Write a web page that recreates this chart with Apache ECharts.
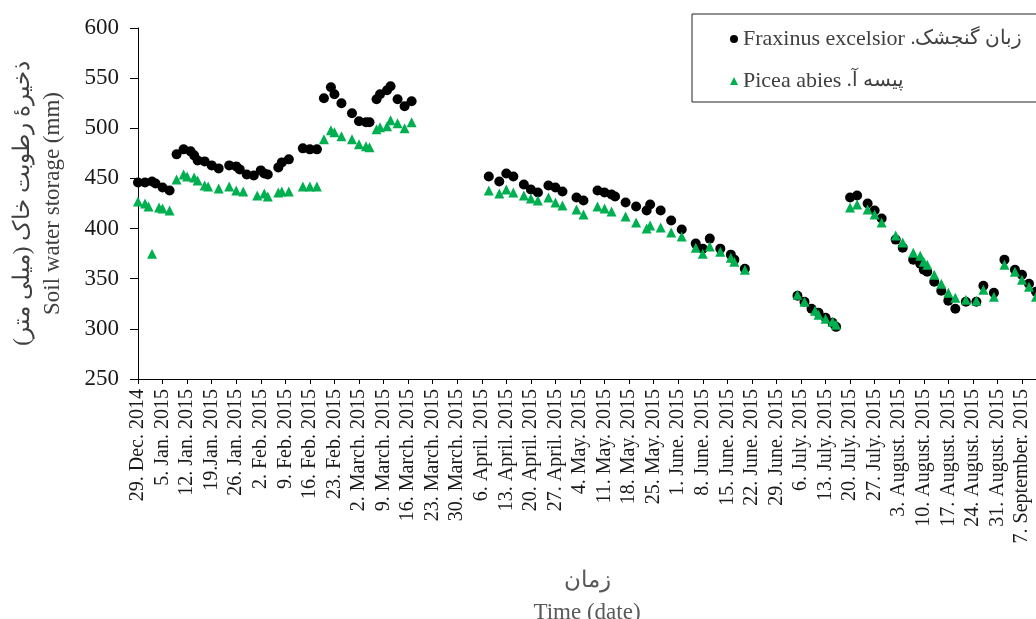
<!DOCTYPE html>
<html>
<head>
<meta charset="utf-8">
<script src="https://cdn.jsdelivr.net/npm/echarts@6/dist/echarts.min.js"></script>
<style>
html,body{margin:0;padding:0;background:#fff;}
#chart{width:1036px;height:619px;}
</style>
</head>
<body>
<div id="chart"></div>
<script>
// Tick labels (one per week, starting 29 Dec 2014 = day 0)
const tickLabels = ['29. Dec. 2014','5. Jan. 2015','12. Jan. 2015','19.Jan. 2015','26. Jan. 2015','2. Feb. 2015','9. Feb. 2015','16. Feb. 2015','23. Feb. 2015','2. March. 2015','9. March. 2015','16. March. 2015','23. March. 2015','30. March. 2015','6. April. 2015','13. April. 2015','20. April. 2015','27. April. 2015','4. May. 2015','11. May. 2015','18. May. 2015','25. May. 2015','1. June. 2015','8. June. 2015','15. June. 2015','22. June. 2015','29. June. 2015','6. July. 2015','13. July. 2015','20. July. 2015','27. July. 2015','3. August. 2015','10. August. 2015','17. August. 2015','24. August. 2015','31. August. 2015','7. September. 2015'];

// Fraxinus excelsior (ash): day since 29 Dec 2014, soil water storage (mm)
const ashDays = [0,2,4,5,7,9, 11,13,15,16,17,19,21,23,26,28,29,31,33,35,36,37,40,41,43, 47,49,51,53,55,56,58,61,63,65,66,68,69,71,72,74,76,78, 100,103,105,107,110,112,114,117,119,121,125,127,131,133,135,136,139,142,145,146,149,152,155,159,161,163,166,169,170,173, 188,190,192,194,196,198,199, 203,205,208,210,212,216,218,221,223,224,225,227,229,231,233,236,239,241,244,247,250,252,254,256];
const ashValues = [446,446,447,445,441,438, 474,479,477,473,468,467,463,460,463,462,459,454,453,458,455,454,461,466,469, 480,479,479,530,541,534,525,515,507,506,506,529,534,538,542,529,522,527, 452,447,455,452,444,439,436,443,441,437,431,428,438,436,434,432,426,422,418,424,418,408,399,385,380,390,380,374,369,360, 333,327,320,316,311,306,302, 431,433,425,418,410,389,381,369,365,359,357,347,338,328,320,327,327,343,336,369,359,354,345,337];

// Picea abies (spruce)
const spruceDays = [0,2,3,4,6,7,9, 11,13,14,16,17,19,20,23,26,28,30,34,36,37,40,41,43, 47,49,51,53,55,56,58,61,63,65,66,68,69,71,72,74,76,78, 100,103,105,107,110,112,114,117,119,121,125,127,131,133,135,139,142,145,146,149,152,155,159,161,163,166,169,170,173, 188,190,193,194,196,198,199, 203,205,208,210,212,216,218,221,223,224,225,227,229,231,233,236,239,241,244,247,250,252,254,256];
const spruceValues = [427,425,422,375,421,420,418, 449,454,452,451,448,443,442,440,442,438,437,433,435,432,436,437,437, 442,442,442,489,498,496,492,489,484,482,481,499,501,502,508,505,500,506, 438,435,439,436,433,430,428,431,426,423,419,414,422,420,417,412,406,400,403,401,396,392,381,375,382,377,371,367,359, 334,327,318,314,310,307,304, 421,424,419,414,406,393,386,376,373,367,364,354,345,336,331,329,328,339,332,364,357,349,342,332];

const ashName = 'Fraxinus excelsior .زبان گنجشک';
const spruceName = 'Picea abies .پیسه آ';
const yName = 'ذخیرهٔ رطوبت خاک (میلی متر)\u200F\nSoil water storage (mm)';
const xName = 'زمان\nTime (date)';

const FONT = "'Liberation Serif', 'Times New Roman', serif";
const tickDays = tickLabels.map((_, i) => i * 7);

const chart = echarts.init(document.getElementById('chart'), null, {renderer: 'canvas'});
chart.setOption({
  animation: false,
  backgroundColor: '#ffffff',
  textStyle: {fontFamily: FONT},
  grid: {left: 138, right: 0, top: 28, bottom: 240, containLabel: false, outerBoundsMode: 'none'},
  legend: {
    left: 692, top: 14, orient: 'vertical',
    padding: [14, 40, 10, 38],
    borderColor: '#222', borderWidth: 1,
    itemGap: 20, itemWidth: 8, itemHeight: 8,
    textStyle: {
      fontSize: 22, color: '#404040', fontFamily: FONT,
      rich: {
        en: {fontSize: 22, color: '#404040', fontFamily: FONT},
        fa: {fontSize: 20, color: '#404040', fontFamily: FONT}
      }
    },
    formatter: name => {
      const parts = name.split(' .');
      return '{en|' + parts[0] + ' }{fa|.' + parts[1] + '}';
    },
    data: [{name: ashName, icon: 'circle'}, {name: spruceName, icon: 'triangle'}]
  },
  xAxis: {
    type: 'value', min: 0, max: 256,
    axisLine: {show: true, lineStyle: {color: '#000', width: 1}},
    axisTick: {show: true, inside: false, length: 5, customValues: tickDays, lineStyle: {color: '#000'}},
    axisLabel: {customValues: tickDays, rotate: 90, fontSize: 20, margin: 10, color: '#1a1a1a', fontFamily: FONT,
      formatter: v => tickLabels[Math.round(v / 7)] || ''},
    splitLine: {show: false},
    name: xName, nameLocation: 'middle', nameGap: 186,
    nameTextStyle: {fontSize: 23, lineHeight: 32, color: '#595959', fontFamily: FONT}
  },
  yAxis: {
    type: 'value', min: 250, max: 600, interval: 50,
    axisLine: {show: true, lineStyle: {color: '#000', width: 1}},
    axisTick: {show: true, inside: false, length: 8, lineStyle: {color: '#000'}},
    axisLabel: {fontSize: 23, margin: 19, color: '#1a1a1a', fontFamily: FONT},
    splitLine: {show: false},
    name: yName, nameLocation: 'middle', nameRotate: 90, nameGap: 70,
    nameTextStyle: {fontSize: 23, lineHeight: 30, color: '#404040', fontFamily: FONT}
  },
  series: [
    {
      name: ashName, type: 'scatter', symbol: 'circle', symbolSize: 10, clip: false,
      itemStyle: {color: '#000000', opacity: 1},
      data: ashDays.map((d, i) => [d, ashValues[i]])
    },
    {
      name: spruceName, type: 'scatter', symbol: 'triangle', symbolSize: 10, clip: false,
      itemStyle: {color: '#00B050', opacity: 1},
      data: spruceDays.map((d, i) => [d, spruceValues[i]])
    }
  ]
});
</script>
</body>
</html>
